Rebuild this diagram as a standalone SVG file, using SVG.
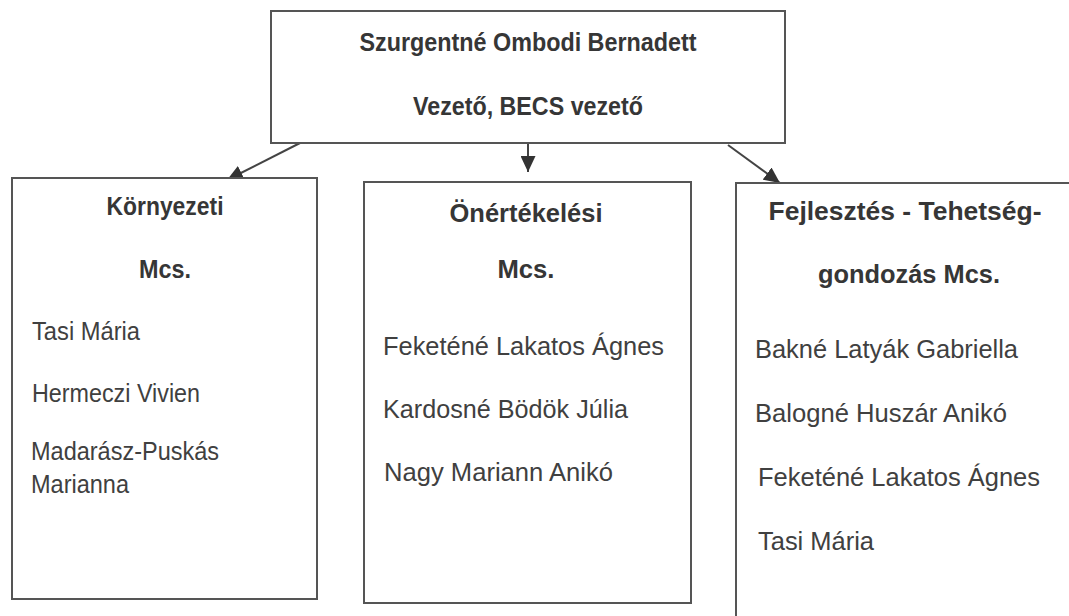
<svg xmlns="http://www.w3.org/2000/svg" width="1069" height="616" viewBox="0 0 1069 616">
<style>
.box{fill:#fff;stroke:#555;stroke-width:2}
.b{font-family:"Liberation Sans",Arial,sans-serif;font-weight:bold;font-size:25px;fill:#363636;text-anchor:middle}
.r{font-family:"Liberation Sans",Arial,sans-serif;font-size:25px;fill:#404040}
.c{stroke:#444;stroke-width:2;fill:none}
</style>
<defs>
<marker id="ah" markerUnits="userSpaceOnUse" markerWidth="17" markerHeight="15" refX="16" refY="7.5" orient="auto">
<path d="M0,0 L16,7.5 L0,15 Z" fill="#333"/>
</marker>
</defs>
<rect width="1069" height="616" fill="#fff"/>
<g id="connectors">
<line class="c" x1="300" y1="143" x2="227" y2="180" marker-end="url(#ah)"/>
<line class="c" x1="528" y1="143" x2="528" y2="172" marker-end="url(#ah)"/>
<line class="c" x1="728" y1="145" x2="780" y2="183" marker-end="url(#ah)"/>
</g>
<g id="top">
<rect class="box" x="271" y="11" width="514" height="132"/>
<text class="b" x="528" y="51" textLength="337" lengthAdjust="spacingAndGlyphs">Szurgentné Ombodi Bernadett</text>
<text class="b" x="528" y="115" textLength="230" lengthAdjust="spacingAndGlyphs">Vezető, BECS vezető</text>
</g>
<g id="kornyezeti">
<rect class="box" x="12" y="178" width="305" height="421"/>
<text class="b" x="165" y="215" textLength="117" lengthAdjust="spacingAndGlyphs">Környezeti</text>
<text class="b" x="165" y="278" textLength="52" lengthAdjust="spacingAndGlyphs">Mcs.</text>
<text class="r" x="32" y="340" textLength="108" lengthAdjust="spacingAndGlyphs">Tasi Mária</text>
<text class="r" x="32" y="402" textLength="168" lengthAdjust="spacingAndGlyphs">Hermeczi Vivien</text>
<text class="r" x="31" y="460" textLength="188" lengthAdjust="spacingAndGlyphs">Madarász-Puskás</text>
<text class="r" x="31" y="493" textLength="98" lengthAdjust="spacingAndGlyphs">Marianna</text>
</g>
<g id="onertekelesi">
<rect class="box" x="364" y="182" width="327" height="421"/>
<text class="b" x="526" y="222" textLength="153" lengthAdjust="spacingAndGlyphs">Önértékelési</text>
<text class="b" x="526" y="278" textLength="57" lengthAdjust="spacingAndGlyphs">Mcs.</text>
<text class="r" x="383" y="355" textLength="281" lengthAdjust="spacingAndGlyphs">Feketéné Lakatos Ágnes</text>
<text class="r" x="383" y="418" textLength="245" lengthAdjust="spacingAndGlyphs">Kardosné Bödök Júlia</text>
<text class="r" x="384" y="481" textLength="229" lengthAdjust="spacingAndGlyphs">Nagy Mariann Anikó</text>
</g>
<g id="fejlesztes">
<rect class="box" x="736" y="183" width="345" height="450"/>
<text class="b" x="905" y="220" textLength="273" lengthAdjust="spacingAndGlyphs">Fejlesztés - Tehetség-</text>
<text class="b" x="909" y="283" textLength="182" lengthAdjust="spacingAndGlyphs">gondozás Mcs.</text>
<text class="r" x="755" y="358" textLength="263" lengthAdjust="spacingAndGlyphs">Bakné Latyák Gabriella</text>
<text class="r" x="755" y="422" textLength="252" lengthAdjust="spacingAndGlyphs">Balogné Huszár Anikó</text>
<text class="r" x="758" y="486" textLength="282" lengthAdjust="spacingAndGlyphs">Feketéné Lakatos Ágnes</text>
<text class="r" x="758" y="550" textLength="116" lengthAdjust="spacingAndGlyphs">Tasi Mária</text>
</g>
</svg>
